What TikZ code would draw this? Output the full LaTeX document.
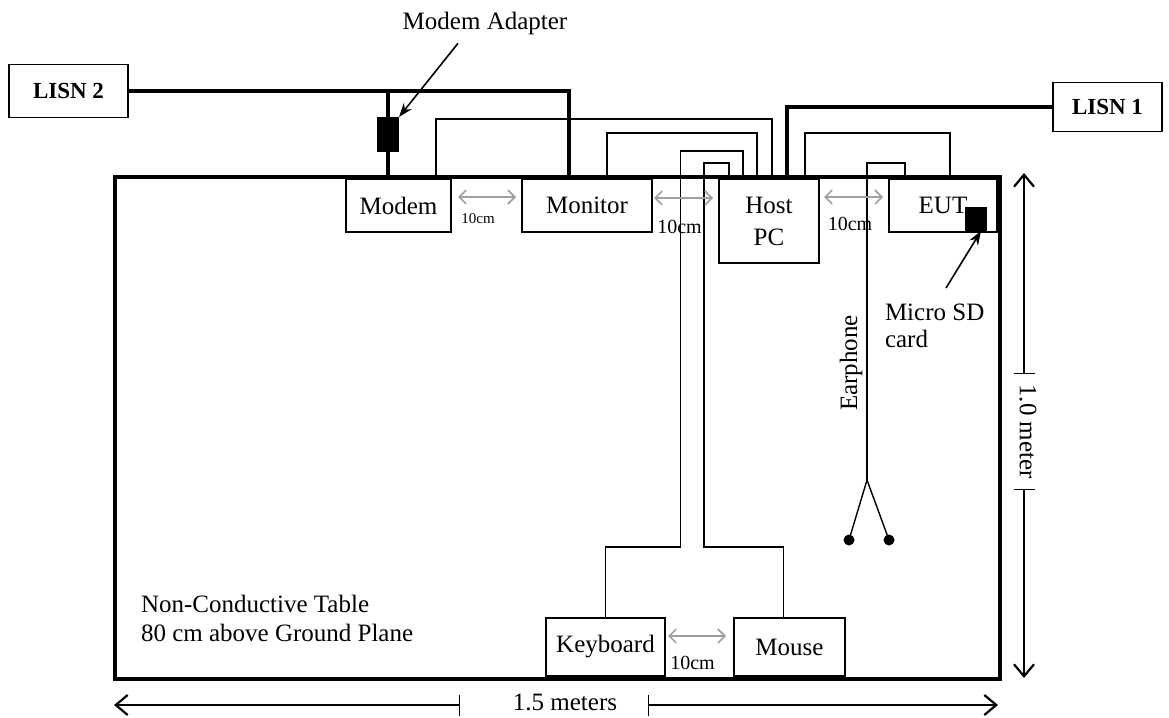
\documentclass[tikz,border=0pt]{standalone}
\usepackage{fontspec}
\setmainfont{Liberation Serif}
\usepackage{tikz}
\usetikzlibrary{arrows.meta,calc}

\begin{document}
\begin{tikzpicture}[
    x = 1pt, y = -1pt, % pixel grid, y pointing down
    > = {Stealth[length=14pt,width=10pt]}, % arrow head style
    font = \fontsize{25}{29}\selectfont, % text size
    semithick % line style
]
\tikzstyle{every node}=[inner sep=0pt, outer sep=0pt]
\tikzstyle{unit}=[
    draw = black,
    line width = 1.3pt,
    fill = white,
    minimum height = 53pt
]
\tikzstyle{lisn}=[draw=black, line width=1.3pt, font=\fontsize{23}{27}\selectfont\bfseries]
\tikzstyle{plug}=[fill=black, minimum width=22pt]
\tikzstyle{power}=[line width=3.5pt]
\tikzstyle{cable}=[line width=1.4pt]
\tikzstyle{gap}=[draw=gray!75, line width=1.6pt, {Straight Barb[length=7pt,width=14pt]}-{Straight Barb[length=7pt,width=14pt]}]
\tikzstyle{gaplabel}=[font=\fontsize{20}{24}\selectfont]
\tikzstyle{dim}=[line width=1.4pt, {Bar[width=21pt]}-{Straight Barb[length=12pt,width=20pt,line width=2.2pt]}]
\tikzstyle{pointer}=[->, line width=1.6pt]
\tikzstyle{bud}=[circle, fill=black, minimum size=11pt]

\useasboundingbox (0,0) rectangle (1169,717);

% table
\node[draw=black, line width=4pt, minimum width=885pt, minimum height=502pt] (table) at (557.5,428) {};

% units
\node[unit, minimum width=105pt] (modem) at (398.5,205.5) {Modem};
\node[unit, minimum width=130pt] (monitor) at (587,205.5) {Monitor};
\node[unit, minimum width=100pt, minimum height=84pt, align=center, font=\fontsize{25}{32}\selectfont] (host) at (769,221) {Host\\PC};
\node[unit, minimum width=108pt] (eut) at (943,205.5) {EUT};
\node[unit, minimum width=119pt, minimum height=58pt] (keyboard) at (605.5,647) {Keyboard};
\node[unit, minimum width=111pt, minimum height=58pt] (mouse) at (789.5,647) {Mouse};

% LISNs
\node[lisn, minimum width=119pt, minimum height=53pt] (lisn2) at (68.5,91) {LISN 2};
\node[lisn, minimum width=109pt, minimum height=49pt] (lisn1) at (1107.5,107) {LISN 1};

\node[plug, minimum height=35pt] (adapter) at (388,134.5) {};
\node[plug, minimum height=24pt] (sdcard) at (976,219) {};

% power lines
\draw[power] (lisn2.east) -| ([xshift=47pt]monitor.north west);
\draw[power] (adapter.north) -- (adapter.north |- lisn2.east);
\draw[power] (adapter.south) -- (adapter.south |- modem.north);
\draw[power] (lisn1.west) -| ([xshift=68pt]host.north west);

% cables
\draw[cable] ([xshift=90pt]modem.north west) -- ++(0,-60) -| ([xshift=53pt]host.north west);
\draw[cable] ([xshift=85pt]monitor.north west) -- ++(0,-46) -| ([xshift=38pt]host.north west);
\draw[cable] (keyboard.north) -- ++(0,-71) -- ++(75,0) -- ++(0,-396) -| ([xshift=24pt]host.north west);
\draw[cable] ([xshift=-6pt]mouse.north) -- ++(0,-71) -- ++(-79.5,0) -- ++(0,-384) -| ([xshift=10pt]host.north west);
\draw[cable] ([xshift=86pt]host.north west) -- ++(0,-46) -| ([xshift=61pt]eut.north west);

% earphone
\coordinate (split) at (867,480);
\node[bud] (bud1) at (849,540) {};
\node[bud] (bud2) at (889,540) {};
\draw[cable] ([xshift=16pt]eut.north west) -- ++(0,-16) -| (split);
\draw[cable] (split) -- (bud1.center);
\draw[cable] (split) -- (bud2.center);
\node[rotate=90] (earlbl) at (851,363) {Earphone};

% 10cm spacings
\draw[gap] ($(modem.east)+(7pt,8.5pt)$) -- ($(monitor.west)+(-6pt,8.5pt)$);
\draw[gap] ($(monitor.east)+(2pt,7.5pt)$) -- ($(host.west |- monitor.east)+(-6pt,7.5pt)$);
\draw[gap] ($(host.east |- eut.west)+(5pt,8.5pt)$) -- ($(eut.west)+(-6pt,8.5pt)$);
\draw[gap] ($(keyboard.east)+(3pt,11pt)$) -- ($(mouse.west)+(-8pt,11pt)$);
\node[font=\fontsize{15}{18}\selectfont] (gap1) at (478,219) {10cm};
\node[gaplabel] (gap2) at (679.5,227) {10cm};
\node[gaplabel] (gap3) at (850,224) {10cm};
\node[gaplabel] (gap4) at (692.5,663) {10cm};

% callouts
\node (adapterlbl) at (485,23) {Modem Adapter};
\draw[pointer] ($(adapterlbl.south)+(-27pt,-9pt)$) -- (adapter.north east);
\node[align=left, anchor=north west, font=\fontsize{25}{27}\selectfont] (sdlbl) at (885,304) {Micro SD\\card};
\draw[pointer] ($(sdlbl.north west)+(61pt,16pt)$) -- ([xshift=5pt]sdcard.south);
\node[align=left, anchor=north west] (tablelbl) at (141,595) {Non-Conductive Table\\80 cm above Ground Plane};

% dimensions
\node[rotate=-90] (heightlbl) at (1028,431.5) {1.0 meter};
\draw[dim] ($(heightlbl.west)+(-4pt,10pt)$) -- ($(heightlbl.west |- table.north)+(-4pt,4pt)$);
\draw[dim] ($(heightlbl.east)+(-4pt,-10pt)$) -- ($(heightlbl.east |- table.south)+(-4pt,1pt)$);
\node (widthlbl) at (565,702) {1.5 meters};
\draw[dim] ($(widthlbl.west)+(-53pt,-3pt)$) -- ($(widthlbl.west -| table.west)+(-1pt,-3pt)$);
\draw[dim] ($(widthlbl.east)+(31pt,-3pt)$) -- ($(widthlbl.east -| table.east)+(-2pt,-3pt)$);

\end{tikzpicture}
\end{document}
